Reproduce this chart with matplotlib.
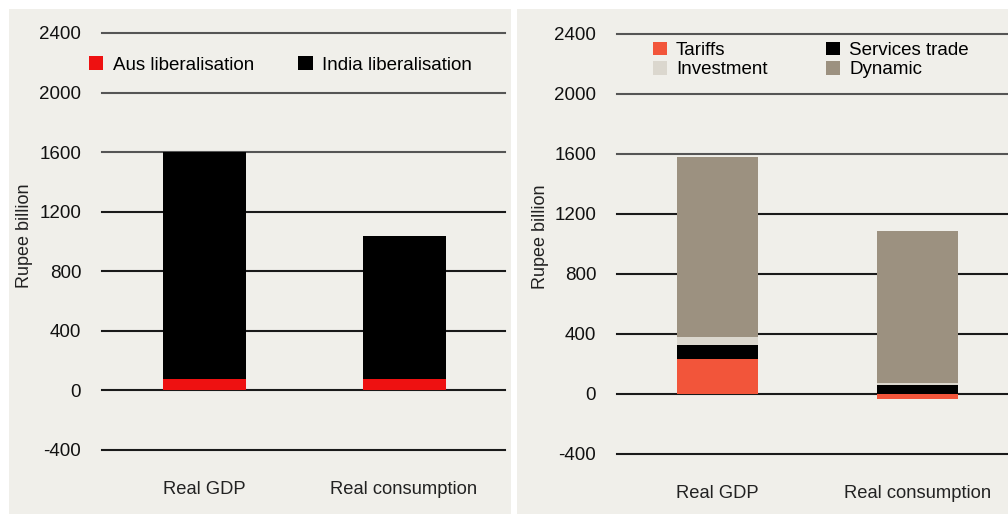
import matplotlib
matplotlib.use("Agg")
import matplotlib.pyplot as plt
from matplotlib.patches import Rectangle
import numpy as np

plt.rcParams['font.family'] = ['Liberation Sans', 'DejaVu Sans']

categories = ['Real GDP', 'Real consumption']
yticks = [-400, 0, 400, 800, 1200, 1600, 2000, 2400]

# left panel: who liberalises
aus_lib = [75, 75]
india_lib = [1525, 965]

# right panel: source of gains
tariffs = [233, -32]
services = [94, 60]
investment = [53, 13]
dynamic = [1200, 1014]

W, H = 1008, 515
bg = '#f0efea'

fig = plt.figure(figsize=(W / 100, H / 100), dpi=100)
fig.patch.set_facecolor('white')

def px_rect(x0, y0, x1, y1):
    # pixel box (top-left origin) -> figure fraction
    return [x0 / W, 1 - y1 / H, (x1 - x0) / W, (y1 - y0) / H]

for x0, x1 in [(9, 511), (517, 1008)]:
    fig.patches.append(Rectangle((x0 / W, 1 - 514 / H), (x1 - x0) / W, 505 / H,
                                 transform=fig.transFigure, facecolor=bg,
                                 edgecolor='none', zorder=-10))

def setup(ax, xlim, label_xy):
    ax.set_facecolor('none')
    ax.set_ylim(-400, 2400)
    ax.set_xlim(*xlim)
    for s in ax.spines.values():
        s.set_visible(False)
    for t in yticks:
        ax.axhline(t, color='#1a1a1a' if t < 1600 else '#555555', lw=1.5, zorder=1, clip_on=False)
    ax.set_yticks(yticks)
    ax.set_yticklabels([str(t) for t in yticks], fontsize=13.5, color='#111111')
    ax.tick_params(axis='y', length=0, pad=15)
    ax.set_xticks(range(len(categories)))
    ax.set_xticklabels(categories, fontsize=13.2, color='#222222')
    ax.tick_params(axis='x', length=0, pad=22)
    ax.set_ylabel('Rupee billion', fontsize=13, color='#222222')
    ax.yaxis.set_label_coords(*label_xy)

x = np.arange(len(categories))
leg_kw = dict(frameon=False, fontsize=13.5, handlelength=0.75, handleheight=0.75,
              handletextpad=0.5, borderaxespad=0, ncol=2)

# left panel
ax1 = fig.add_axes(px_rect(102, 33, 505, 450))
setup(ax1, (-0.51, 1.505), (-0.171, 0.513))
ax1.bar(x, aus_lib, width=0.415, color='#ee1111', zorder=2, label='Aus liberalisation')
ax1.bar(x, india_lib, width=0.415, bottom=aus_lib, color='#000000', zorder=2,
        label='India liberalisation')
ax1.legend(loc='upper left', bbox_to_anchor=(-0.05, 0.962), columnspacing=2.37, **leg_kw)

# right panel: negatives stack below zero, positives above
ax2 = fig.add_axes(px_rect(617, 34, 1008, 454))
setup(ax2, (-0.5025, 1.4525), (-0.174, 0.517))
series = [('Tariffs', tariffs, '#f2553a'), ('Services trade', services, '#000000'),
          ('Investment', investment, '#dbd7ce'), ('Dynamic', dynamic, '#9c9180')]
pos = np.zeros(len(categories))
neg = np.zeros(len(categories))
handles = {}
for name, vals, col in series:
    vals = np.array(vals, dtype=float)
    bottom = np.where(vals >= 0, pos, neg)
    handles[name] = ax2.bar(x, vals, width=0.405, bottom=bottom, color=col, zorder=2)
    pos = pos + np.where(vals >= 0, vals, 0)
    neg = neg + np.where(vals < 0, vals, 0)
order = ['Tariffs', 'Investment', 'Services trade', 'Dynamic']
ax2.legend([handles[k] for k in order], order, loc='upper left',
           bbox_to_anchor=(0.072, 1.0), columnspacing=3.1, labelspacing=0.1, **leg_kw)

fig.savefig('out.png', dpi=100, facecolor=fig.get_facecolor())
